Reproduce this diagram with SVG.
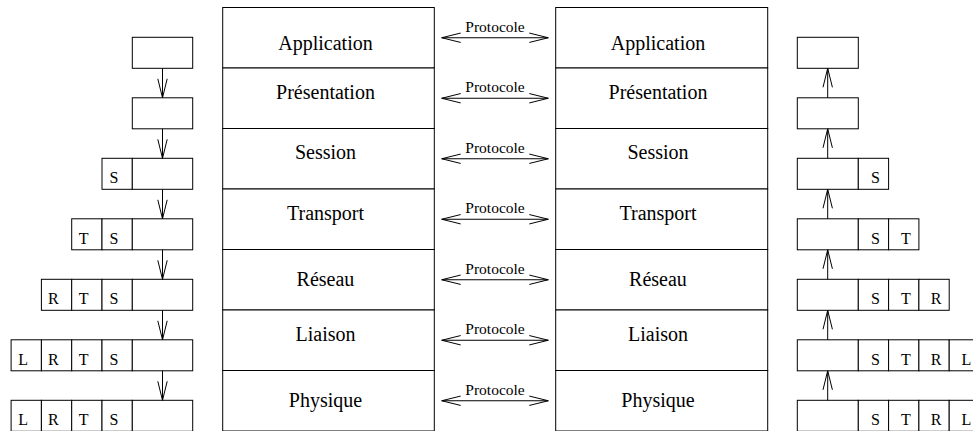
<svg xmlns="http://www.w3.org/2000/svg" width="973" height="431" viewBox="0 0 973 431">
<defs>
<style>
.bx{fill:#fff;stroke:#000;stroke-width:1}
.ln{fill:none;stroke:#000;stroke-width:1}
.big{font-family:"Liberation Serif","Times New Roman",serif;font-size:20px;text-anchor:middle;fill:#000}
.pr{font-family:"Liberation Serif","Times New Roman",serif;font-size:15.5px;text-anchor:middle;fill:#000}
.lt{font-family:"Liberation Serif","Times New Roman",serif;font-size:16px;text-anchor:middle;fill:#000}
</style>
<marker id="v" markerUnits="userSpaceOnUse" markerWidth="24" markerHeight="14" viewBox="-21 -7 24 14" refX="0" refY="0" orient="auto-start-reverse" overflow="visible">
<path d="M-19,-4.7 L0,0 L-19,4.7" fill="none" stroke="#000" stroke-width="1"/>
</marker>
</defs>
<rect width="973" height="431" fill="#fff"/>

<!-- Central layer columns -->
<g id="layer-left-application"><rect class="bx" x="222.7" y="7.5" width="211.6" height="60.5"/><text class="big" x="325.5" y="50">Application</text></g>
<g id="layer-left-presentation"><rect class="bx" x="222.7" y="68" width="211.6" height="60.5"/><text class="big" x="325.5" y="99.3">Présentation</text></g>
<g id="layer-left-session"><rect class="bx" x="222.7" y="128.5" width="211.6" height="60.5"/><text class="big" x="325.5" y="159">Session</text></g>
<g id="layer-left-transport"><rect class="bx" x="222.7" y="189" width="211.6" height="60.5"/><text class="big" x="325.5" y="220">Transport</text></g>
<g id="layer-left-reseau"><rect class="bx" x="222.7" y="249.5" width="211.6" height="60.5"/><text class="big" x="325.5" y="285.7">Réseau</text></g>
<g id="layer-left-liaison"><rect class="bx" x="222.7" y="310" width="211.6" height="60.5"/><text class="big" x="325.5" y="340.7">Liaison</text></g>
<g id="layer-left-physique"><rect class="bx" x="222.7" y="370.5" width="211.6" height="60.5"/><text class="big" x="325.5" y="406.7">Physique</text></g>

<g id="layer-right-application"><rect class="bx" x="555.7" y="7.5" width="212" height="60.5"/><text class="big" x="658" y="50">Application</text></g>
<g id="layer-right-presentation"><rect class="bx" x="555.7" y="68" width="212" height="60.5"/><text class="big" x="658" y="99.3">Présentation</text></g>
<g id="layer-right-session"><rect class="bx" x="555.7" y="128.5" width="212" height="60.5"/><text class="big" x="658" y="159">Session</text></g>
<g id="layer-right-transport"><rect class="bx" x="555.7" y="189" width="212" height="60.5"/><text class="big" x="658" y="220">Transport</text></g>
<g id="layer-right-reseau"><rect class="bx" x="555.7" y="249.5" width="212" height="60.5"/><text class="big" x="658" y="285.7">Réseau</text></g>
<g id="layer-right-liaison"><rect class="bx" x="555.7" y="310" width="212" height="60.5"/><text class="big" x="658" y="340.7">Liaison</text></g>
<g id="layer-right-physique"><rect class="bx" x="555.7" y="370.5" width="212" height="60.5"/><text class="big" x="658" y="406.7">Physique</text></g>

<!-- Left encapsulation stack -->
<g id="left-pdu-1"><rect class="bx" x="132.3" y="37.3" width="60.4" height="31"/></g>
<g id="left-pdu-2"><rect class="bx" x="132.3" y="97.8" width="60.4" height="31"/></g>
<g id="left-pdu-3"><rect class="bx" x="102" y="158.3" width="30.3" height="31"/><rect class="bx" x="132.3" y="158.3" width="60.4" height="31"/>
<text class="lt" x="114" y="183.3">S</text></g>
<g id="left-pdu-4"><rect class="bx" x="71.7" y="218.8" width="30.3" height="31"/><rect class="bx" x="102" y="218.8" width="30.3" height="31"/><rect class="bx" x="132.3" y="218.8" width="60.4" height="31"/>
<text class="lt" x="83.7" y="243.8">T</text><text class="lt" x="114" y="243.8">S</text></g>
<g id="left-pdu-5"><rect class="bx" x="41.4" y="279.3" width="30.3" height="31"/><rect class="bx" x="71.7" y="279.3" width="30.3" height="31"/><rect class="bx" x="102" y="279.3" width="30.3" height="31"/><rect class="bx" x="132.3" y="279.3" width="60.4" height="31"/>
<text class="lt" x="53.4" y="304.3">R</text><text class="lt" x="83.7" y="304.3">T</text><text class="lt" x="114" y="304.3">S</text></g>
<g id="left-pdu-6"><rect class="bx" x="11.1" y="339.8" width="30.3" height="31"/><rect class="bx" x="41.4" y="339.8" width="30.3" height="31"/><rect class="bx" x="71.7" y="339.8" width="30.3" height="31"/><rect class="bx" x="102" y="339.8" width="30.3" height="31"/><rect class="bx" x="132.3" y="339.8" width="60.4" height="31"/>
<text class="lt" x="23.1" y="364.8">L</text><text class="lt" x="53.4" y="364.8">R</text><text class="lt" x="83.7" y="364.8">T</text><text class="lt" x="114" y="364.8">S</text></g>
<g id="left-pdu-7"><rect class="bx" x="11.1" y="400.3" width="30.3" height="31"/><rect class="bx" x="41.4" y="400.3" width="30.3" height="31"/><rect class="bx" x="71.7" y="400.3" width="30.3" height="31"/><rect class="bx" x="102" y="400.3" width="30.3" height="31"/><rect class="bx" x="132.3" y="400.3" width="60.4" height="31"/>
<text class="lt" x="23.1" y="425.3">L</text><text class="lt" x="53.4" y="425.3">R</text><text class="lt" x="83.7" y="425.3">T</text><text class="lt" x="114" y="425.3">S</text></g>

<!-- Right decapsulation stack -->
<g id="right-pdu-1"><rect class="bx" x="797.3" y="37.3" width="61" height="31"/></g>
<g id="right-pdu-2"><rect class="bx" x="797.3" y="97.8" width="61" height="31"/></g>
<g id="right-pdu-3"><rect class="bx" x="797.3" y="158.3" width="61" height="31"/><rect class="bx" x="858.3" y="158.3" width="30.3" height="31"/>
<text class="lt" x="875.5" y="183.3">S</text></g>
<g id="right-pdu-4"><rect class="bx" x="797.3" y="218.8" width="61" height="31"/><rect class="bx" x="858.3" y="218.8" width="30.3" height="31"/><rect class="bx" x="888.6" y="218.8" width="30.3" height="31"/>
<text class="lt" x="875.5" y="243.8">S</text><text class="lt" x="905.8" y="243.8">T</text></g>
<g id="right-pdu-5"><rect class="bx" x="797.3" y="279.3" width="61" height="31"/><rect class="bx" x="858.3" y="279.3" width="30.3" height="31"/><rect class="bx" x="888.6" y="279.3" width="30.3" height="31"/><rect class="bx" x="918.9" y="279.3" width="30.3" height="31"/>
<text class="lt" x="875.5" y="304.3">S</text><text class="lt" x="905.8" y="304.3">T</text><text class="lt" x="936.1" y="304.3">R</text></g>
<g id="right-pdu-6"><rect class="bx" x="797.3" y="339.8" width="61" height="31"/><rect class="bx" x="858.3" y="339.8" width="30.3" height="31"/><rect class="bx" x="888.6" y="339.8" width="30.3" height="31"/><rect class="bx" x="918.9" y="339.8" width="30.3" height="31"/><rect class="bx" x="949.2" y="339.8" width="30.3" height="31"/>
<text class="lt" x="875.5" y="364.8">S</text><text class="lt" x="905.8" y="364.8">T</text><text class="lt" x="936.1" y="364.8">R</text><text class="lt" x="966.4" y="364.8">L</text></g>
<g id="right-pdu-7"><rect class="bx" x="797.3" y="400.3" width="61" height="31"/><rect class="bx" x="858.3" y="400.3" width="30.3" height="31"/><rect class="bx" x="888.6" y="400.3" width="30.3" height="31"/><rect class="bx" x="918.9" y="400.3" width="30.3" height="31"/><rect class="bx" x="949.2" y="400.3" width="30.3" height="31"/>
<text class="lt" x="875.5" y="425.3">S</text><text class="lt" x="905.8" y="425.3">T</text><text class="lt" x="936.1" y="425.3">R</text><text class="lt" x="966.4" y="425.3">L</text></g>

<!-- Connectors -->
<g id="connectors">
<g id="protocol-arrows">
<line class="ln" x1="441.7" y1="37.75" x2="548.3" y2="37.75" marker-start="url(#v)" marker-end="url(#v)"/>
<text class="pr" x="495" y="31.75">Protocole</text>
<line class="ln" x1="441.7" y1="98.25" x2="548.3" y2="98.25" marker-start="url(#v)" marker-end="url(#v)"/>
<text class="pr" x="495" y="92.25">Protocole</text>
<line class="ln" x1="441.7" y1="158.75" x2="548.3" y2="158.75" marker-start="url(#v)" marker-end="url(#v)"/>
<text class="pr" x="495" y="152.75">Protocole</text>
<line class="ln" x1="441.7" y1="219.25" x2="548.3" y2="219.25" marker-start="url(#v)" marker-end="url(#v)"/>
<text class="pr" x="495" y="213.25">Protocole</text>
<line class="ln" x1="441.7" y1="279.75" x2="548.3" y2="279.75" marker-start="url(#v)" marker-end="url(#v)"/>
<text class="pr" x="495" y="273.75">Protocole</text>
<line class="ln" x1="441.7" y1="340.25" x2="548.3" y2="340.25" marker-start="url(#v)" marker-end="url(#v)"/>
<text class="pr" x="495" y="334.25">Protocole</text>
<line class="ln" x1="441.7" y1="400.75" x2="548.3" y2="400.75" marker-start="url(#v)" marker-end="url(#v)"/>
<text class="pr" x="495" y="394.75">Protocole</text>
</g>
<g id="down-arrows">
<line class="ln" x1="162.5" y1="68.3" x2="162.5" y2="97.8" marker-end="url(#v)"/>
<line class="ln" x1="162.5" y1="128.8" x2="162.5" y2="158.3" marker-end="url(#v)"/>
<line class="ln" x1="162.5" y1="189.3" x2="162.5" y2="218.8" marker-end="url(#v)"/>
<line class="ln" x1="162.5" y1="249.8" x2="162.5" y2="279.3" marker-end="url(#v)"/>
<line class="ln" x1="162.5" y1="310.3" x2="162.5" y2="339.8" marker-end="url(#v)"/>
<line class="ln" x1="162.5" y1="370.8" x2="162.5" y2="400.3" marker-end="url(#v)"/>
</g>
<g id="up-arrows">
<line class="ln" x1="827.7" y1="97.8" x2="827.7" y2="68.3" marker-end="url(#v)"/>
<line class="ln" x1="827.7" y1="158.3" x2="827.7" y2="128.8" marker-end="url(#v)"/>
<line class="ln" x1="827.7" y1="218.8" x2="827.7" y2="189.3" marker-end="url(#v)"/>
<line class="ln" x1="827.7" y1="279.3" x2="827.7" y2="249.8" marker-end="url(#v)"/>
<line class="ln" x1="827.7" y1="339.8" x2="827.7" y2="310.3" marker-end="url(#v)"/>
<line class="ln" x1="827.7" y1="400.3" x2="827.7" y2="370.8" marker-end="url(#v)"/>
</g>
</g>
</svg>
